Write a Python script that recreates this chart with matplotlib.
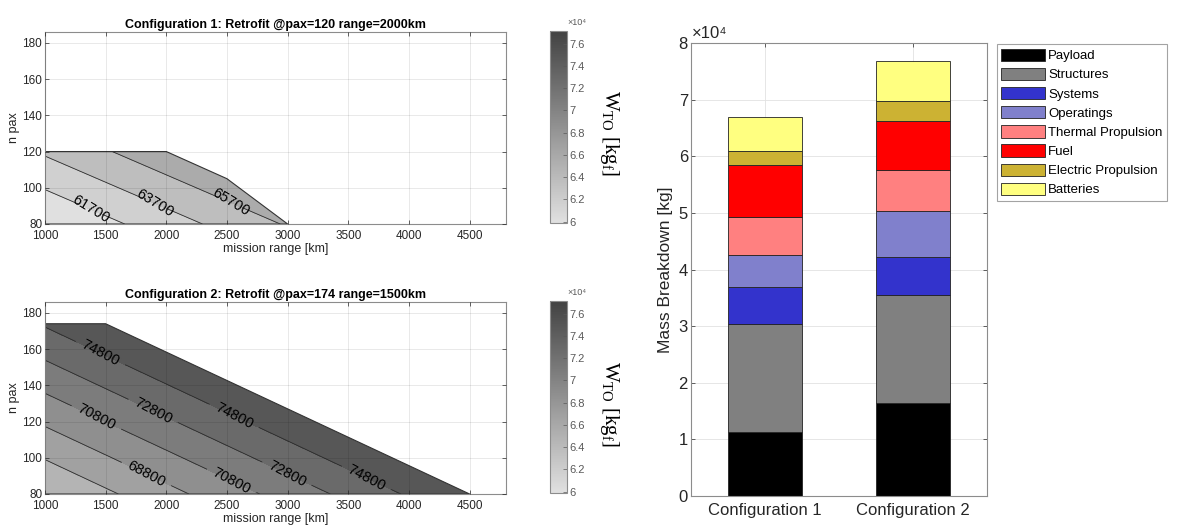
import numpy as np
import matplotlib
matplotlib.use("Agg")
import matplotlib.pyplot as plt
from matplotlib.patches import Polygon
from matplotlib.colors import LinearSegmentedColormap, Normalize
from matplotlib.cm import ScalarMappable
from matplotlib.ticker import FuncFormatter, MultipleLocator

plt.rcParams['font.family'] = ['Liberation Sans', 'DejaVu Sans']
plt.rcParams['mathtext.fontset'] = 'custom'
plt.rcParams['mathtext.rm'] = 'Liberation Serif'
plt.rcParams['mathtext.it'] = 'Liberation Serif:italic'

# ---------------- data ----------------
# configuration 1 : W_TO field (kg) on a coarse grid
c1_range = [1000, 2000, 3000]
c1_pax = [80, 100, 120]
c1_wto = [[59650, 62770, 65890],
          [61810, 64930, 68050],
          [63970, 67090, 70210]]
c1_bound_range = [1000, 1000, 2000, 2500, 3000]
c1_bound_pax = [80, 120, 120, 105, 80]
c1_levels = [61700, 63700, 65700]

# configuration 2
c2_range = [1000, 2000, 3000, 4000, 5000]
c2_pax = [80, 100, 120, 140, 160, 180]
c2_wto = [[64720, 68160, 71590, 75030, 78460],
          [66910, 70340, 73780, 77220, 80650],
          [69100, 72530, 75970, 79400, 82840],
          [71280, 74720, 78160, 81590, 85030],
          [73470, 76910, 80340, 83780, 87220],
          [75660, 79100, 82530, 85970, 89400]]
c2_bound_range = [1000, 1000, 1500, 4500]
c2_bound_pax = [80, 174, 174, 80]
c2_levels = [66800, 68800, 70800, 72800, 74800]

clim = (59880, 77130)

# mass breakdown
configs = ['Configuration 1', 'Configuration 2']
components = ['Payload', 'Structures', 'Systems', 'Operatings',
              'Thermal Propulsion', 'Fuel', 'Electric Propulsion', 'Batteries']
mass_c1 = [11370, 19030, 6480, 5770, 6660, 9250, 2410, 6070]
mass_c2 = [16490, 19030, 6660, 8190, 7240, 8660, 3480, 7070]
comp_colors = ['#000000', '#808080', '#3333cc', '#8080cc',
               '#ff8080', '#ff0000', '#ccb233', '#ffff80']

# ---------------- layout ----------------
W, H = 1178, 529
fig = plt.figure(figsize=(W / 100, H / 100), dpi=100)


def fr(l, t, r, b):
    return [l / W, 1 - b / H, (r - l) / W, (b - t) / H]


cmap = LinearSegmentedColormap.from_list('g', [(0.88, 0.88, 0.88), (0.26, 0.26, 0.26)])
norm = Normalize(*clim)
AXC = '0.15'
SPC = '0.55'


def style_axes(ax, fs, below=True):
    ax.tick_params(direction='in', top=True, right=True, length=3, width=0.5,
                   colors=AXC, labelsize=fs, pad=2)
    for s in ax.spines.values():
        s.set_color(SPC)
        s.set_linewidth(0.8)
    if below:
        ax.grid(True, color='#e2e2e2', lw=0.6)
        ax.set_axisbelow(True)
    else:
        ax.grid(True, color='black', alpha=0.1, lw=0.6)
        ax.set_axisbelow(False)


def contour_panel(rect, crect, rng, pax, wto, br, bp, levels, title, lab_pos):
    ax = fig.add_axes(fr(*rect))
    X, Y = np.meshgrid(rng, pax)
    Z = np.array(wto, dtype=float)
    fill_lv = [Z.min() - 1] + list(levels) + [Z.max() + 1]
    cols = [cmap(norm(max(v, clim[0]))) for v in fill_lv[:-1]]
    poly = Polygon(np.column_stack([br, bp]), closed=True, transform=ax.transData,
                   fc='none', ec='none')
    cf = ax.contourf(X, Y, Z, levels=fill_lv, colors=cols)
    cf.set_clip_path(poly)
    cs = ax.contour(X, Y, Z, levels=levels, colors='#2a2a2a', linewidths=0.6)
    cs.set_clip_path(poly)
    ax.clabel(cs, levels, manual=lab_pos, inline=True, fmt='%d', fontsize=10.5,
              colors='black', inline_spacing=6)
    ax.plot(list(br) + [br[0]], list(bp) + [bp[0]], color='#333333', lw=0.8)
    ax.set_xlim(1000, 4800)
    ax.set_ylim(80, 186)
    ax.set_xticks(np.arange(1000, 4501, 500))
    ax.set_yticks(np.arange(80, 181, 20))
    style_axes(ax, 8.5, below=False)
    ax.tick_params(axis='x', pad=4)
    ax.set_title(title, fontsize=9, fontweight='bold', pad=3, color='black')
    ax.set_xlabel('mission range [km]', fontsize=9, color=AXC, labelpad=1)
    ax.set_ylabel('n pax', fontsize=9, color=AXC, labelpad=2)

    cax = fig.add_axes(fr(*crect))
    cb = fig.colorbar(ScalarMappable(norm=norm, cmap=cmap), cax=cax)
    cb.set_ticks(np.arange(60000, 76001, 2000))
    cax.yaxis.set_major_formatter(FuncFormatter(lambda v, p: f'{v / 1e4:g}'))
    cax.tick_params(direction='in', length=3, width=0.5, colors='0.35', labelsize=8, pad=2)
    cb.outline.set_edgecolor(SPC)
    cb.outline.set_linewidth(0.8)
    cax.text(1.05, 1.02, '×10⁴', transform=cax.transAxes, fontsize=6.5,
             color='0.35', ha='left', va='bottom')
    return ax, cax


lab1 = [(1385, 88.8), (1908, 91.6), (2527, 91.6)]
lab2 = [(1454, 157.4), (1894, 126.2), (1427, 122.6), (2555, 122.6),
        (1839, 91.4), (2527, 85.9), (2995, 91.4), (3655, 89.5)]

contour_panel((45, 32, 506, 224), (550, 31, 567, 223), c1_range, c1_pax, c1_wto,
              c1_bound_range, c1_bound_pax, c1_levels,
              'Configuration 1: Retrofit @pax=120 range=2000km', lab1)
contour_panel((45, 302, 506, 494), (550, 301, 567, 493), c2_range, c2_pax, c2_wto,
              c2_bound_range, c2_bound_pax, c2_levels,
              'Configuration 2: Retrofit @pax=174 range=1500km', lab2)

cb_label = r'W$_{\mathrm{TO}}$ [kg$_{\mathrm{f}}$]'
for yc in (133, 404):
    fig.text(610 / W, 1 - yc / H, cb_label, rotation=-90, ha='center', va='center',
             fontsize=15, family='Liberation Serif', color='black')

# ---------------- bar chart ----------------
axb = fig.add_axes(fr(690.7, 43.3, 986.7, 496))
xpos = np.arange(1, len(configs) + 1)
bottom = np.zeros(len(configs))
for i, name in enumerate(components):
    vals = np.array([mass_c1[i], mass_c2[i]], dtype=float)
    axb.bar(xpos, vals, 0.5, bottom=bottom, color=comp_colors[i], edgecolor='#222222',
            linewidth=0.6, label=name)
    bottom += vals
axb.set_xlim(0.5, 2.5)
axb.set_ylim(0, 80000)
axb.yaxis.set_major_locator(MultipleLocator(10000))
axb.yaxis.set_major_formatter(FuncFormatter(lambda v, p: f'{v / 1e4:g}'))
axb.set_xticks(xpos)
axb.set_xticklabels(configs)
style_axes(axb, 12)
axb.tick_params(axis='x', pad=5)
axb.set_ylabel('Mass Breakdown [kg]', fontsize=12.5, color=AXC, labelpad=4)
axb.text(0.005, 1.004, '×10⁴', transform=axb.transAxes, fontsize=12, color=AXC,
         ha='left', va='bottom')

leg = axb.legend(loc='upper left', bbox_to_anchor=(996.7 / W, 1 - 44 / H),
                 bbox_transform=fig.transFigure, fontsize=9.5, frameon=True,
                 fancybox=False, edgecolor=SPC, handlelength=3.3, handleheight=1.05,
                 labelspacing=0.42, handletextpad=0.25, borderpad=0.35,
                 borderaxespad=0)
leg.get_frame().set_linewidth(0.8)

fig.savefig('out.png', dpi=100)
